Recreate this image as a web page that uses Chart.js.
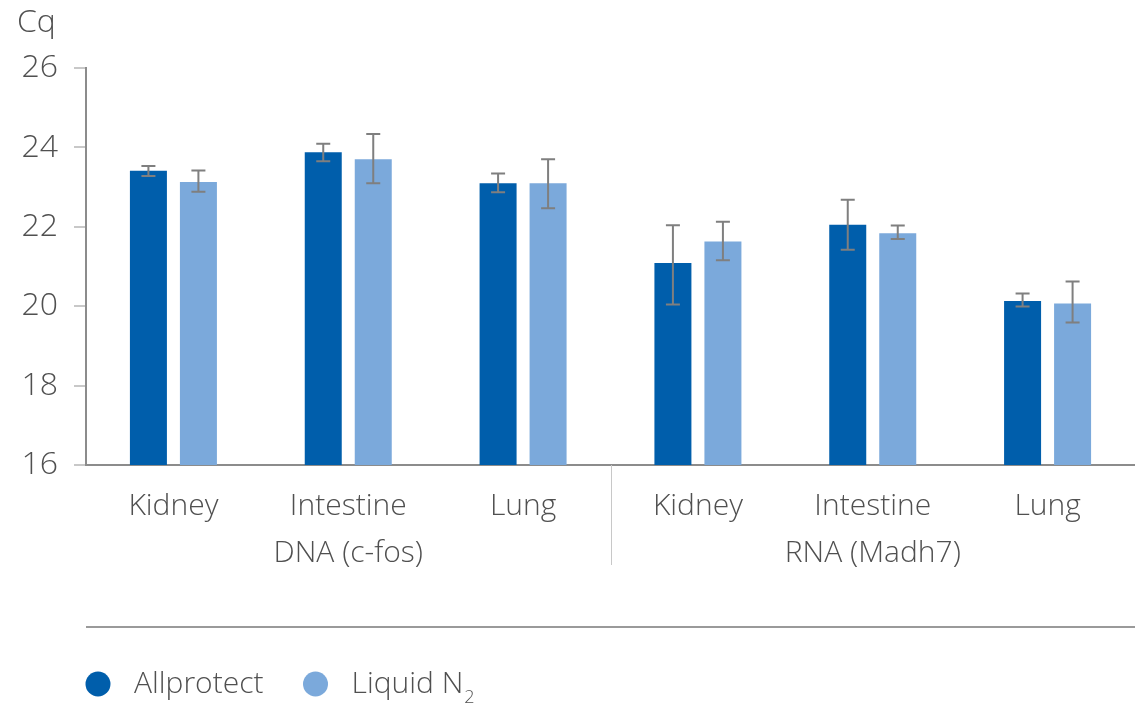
<!DOCTYPE html>
<html>
<head>
<meta charset="utf-8">
<script src="https://cdn.jsdelivr.net/npm/chart.js@4.4.1/dist/chart.umd.min.js"></script>
<style>
html, body { margin: 0; padding: 0; background: #fff; }
</style>
</head>
<body>
<canvas id="myChart" width="1135" height="705"></canvas>
<script>
var categories = ['Kidney', 'Intestine', 'Lung', 'Kidney', 'Intestine', 'Lung'];
var groups = ['DNA (c-fos)', 'RNA (Madh7)'];
var seriesNames = ['Allprotect', 'Liquid N₂'];
var allprotect = [23.41, 23.88, 23.10, 21.09, 22.05, 20.13];
var allprotectLow = [23.28, 23.65, 22.87, 20.04, 21.42, 19.99];
var allprotectHigh = [23.53, 24.09, 23.34, 22.04, 22.68, 20.32];
var liquidN2 = [23.13, 23.70, 23.10, 21.63, 21.84, 20.07];
var liquidN2Low = [22.88, 23.10, 22.47, 21.16, 21.69, 19.59];
var liquidN2High = [23.42, 24.34, 23.70, 22.13, 22.03, 20.62];
var yTicks = [16, 18, 20, 22, 24, 26];
var yTitle = 'Cq';

var textColor = '#505050';
var fontFamily = "'Open Sans', sans-serif";
var fontWeight = 350;
var ctx = document.getElementById('myChart');

// error bars, separator, title and legend
var extras = {
    id: 'extras',
    afterDatasetsDraw: function (chart) {
        var c = chart.ctx;
        var y = chart.scales.y;
        c.save();
        c.strokeStyle = '#7f7f7f';
        c.lineWidth = 2;
        chart.data.datasets.forEach(function (ds, i) {
            var meta = chart.getDatasetMeta(i);
            meta.data.forEach(function (bar, j) {
                var top = y.getPixelForValue(ds.errHigh[j]);
                var bot = y.getPixelForValue(ds.errLow[j]);
                c.beginPath();
                c.moveTo(bar.x, top); c.lineTo(bar.x, bot);
                c.moveTo(bar.x - 7, top); c.lineTo(bar.x + 7, top);
                c.moveTo(bar.x - 7, bot); c.lineTo(bar.x + 7, bot);
                c.stroke();
            });
        });
        c.restore();
    },
    afterDraw: function (chart) {
        var c = chart.ctx;
        var area = chart.chartArea;
        var x = chart.scales.x;
        c.save();
        // group separator
        var sx = Math.round((x.getPixelForValue(2) + x.getPixelForValue(3)) / 2) + 0.5;
        c.strokeStyle = '#c8c8c8';
        c.lineWidth = 1;
        c.beginPath();
        c.moveTo(sx, area.bottom);
        c.lineTo(sx, area.bottom + 100);
        c.stroke();
        // line above legend
        c.strokeStyle = '#9a9a9a';
        c.lineWidth = 2;
        c.beginPath();
        c.moveTo(area.left, area.bottom + 162);
        c.lineTo(area.right, area.bottom + 162);
        c.stroke();
        // y title
        c.fillStyle = textColor;
        c.font = fontWeight + ' 32px ' + fontFamily;
        c.textBaseline = 'alphabetic';
        c.textAlign = 'left';
        c.fillText(yTitle, 17, 32);
        // legend
        var lx = area.left;
        var ly = area.bottom + 219;
        chart.data.datasets.forEach(function (ds) {
            c.fillStyle = ds.backgroundColor;
            c.beginPath();
            c.arc(lx + 12, ly, 12.5, 0, Math.PI * 2);
            c.fill();
            c.fillStyle = textColor;
            c.font = fontWeight + ' 30px ' + fontFamily;
            c.textBaseline = 'middle';
            var tx = lx + 48;
            var label = ds.label;
            if (label.slice(-1) === '₂') {
                var main = label.slice(0, -1);
                c.fillText(main, tx, ly);
                tx += c.measureText(main).width + 1;
                c.font = fontWeight + ' 18px ' + fontFamily;
                c.fillText('2', tx, ly + 14);
                tx += c.measureText('2').width;
            } else {
                c.fillText(label, tx, ly);
                tx += c.measureText(label).width;
            }
            lx = tx + 40;
        });
        c.restore();
    }
};

var myChart = new Chart(ctx, {
    type: 'bar',
    data: {
        labels: categories,
        datasets: [{
            label: seriesNames[0],
            data: allprotect,
            errLow: allprotectLow,
            errHigh: allprotectHigh,
            backgroundColor: '#005eab',
            borderWidth: 0
        }, {
            label: seriesNames[1],
            data: liquidN2,
            errLow: liquidN2Low,
            errHigh: liquidN2High,
            backgroundColor: '#7ba9db',
            borderWidth: 0
        }]
    },
    options: {
        responsive: false,
        animation: false,
        categoryPercentage: 0.572,
        barPercentage: 0.74,
        layout: { padding: { top: 68, left: 0, right: 0, bottom: 128 } },
        plugins: {
            legend: { display: false },
            tooltip: { enabled: false }
        },
        scales: {
            x: {
                type: 'category',
                position: 'bottom',
                grid: { display: false, drawTicks: false },
                border: { display: true, color: '#8c8c8c', width: 2 },
                ticks: { color: textColor, font: { family: fontFamily, size: 30, weight: fontWeight }, padding: 23 },
                afterFit: function (s) { s.height = 62; }
            },
            x2: {
                type: 'category',
                position: 'bottom',
                labels: groups,
                grid: { display: false, drawTicks: false },
                border: { display: false },
                ticks: { color: textColor, font: { family: fontFamily, size: 30, weight: fontWeight }, padding: 8 },
                afterFit: function (s) { s.height = 50; }
            },
            y: {
                min: 16,
                max: 26,
                grid: { display: true, drawOnChartArea: false, drawTicks: true, tickLength: 12, color: '#c8c8c8', lineWidth: 2 },
                border: { display: true, color: '#8c8c8c', width: 2 },
                ticks: { color: textColor, font: { family: fontFamily, size: 32, weight: fontWeight }, padding: 16 },
                afterBuildTicks: function (s) { s.ticks = yTicks.map(function (v) { return { value: v }; }); },
                afterFit: function (s) { s.width = 86; }
            }
        }
    },
    plugins: [extras]
});
</script>
</body>
</html>
